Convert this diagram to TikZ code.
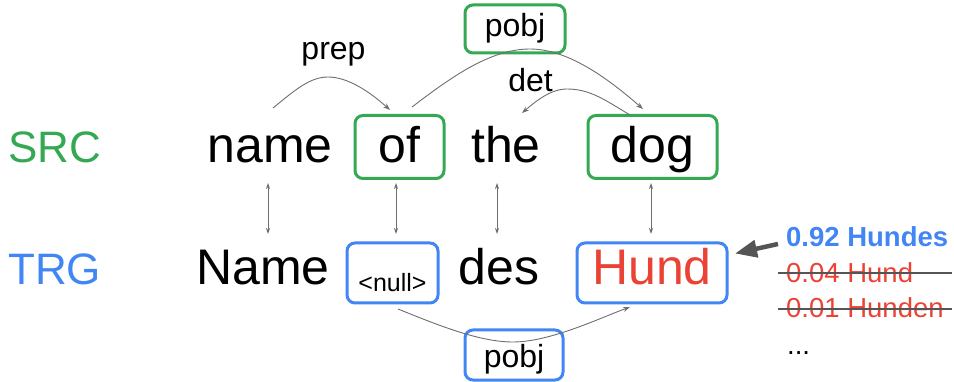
\documentclass[tikz,border=0pt]{standalone}
\usepackage{fontspec}
\setmainfont{Liberation Sans}
\usetikzlibrary{arrows.meta}
\definecolor{gGreen}{HTML}{34A853}
\definecolor{gBlue}{HTML}{4285F4}
\definecolor{gRed}{HTML}{EA4335}
\definecolor{lineGray}{HTML}{6E6E6E}
\definecolor{bigGray}{HTML}{555555}
\tikzset{
  word/.style={font=\fontsize{50}{50}\selectfont, inner sep=0pt, anchor=base},
  side/.style={font=\fontsize{44}{44}\selectfont, inner sep=0pt, anchor=base west},
  rel/.style={font=\fontsize{32}{32}\selectfont, inner sep=0pt, anchor=base},
  boxG/.style={draw=gGreen, line width=3pt, rounded corners=8pt, inner sep=0pt},
  boxB/.style={draw=gBlue, line width=3pt, rounded corners=8pt, inner sep=0pt},
  arc/.style={draw=lineGray, line width=0.9pt, -{Stealth[length=7pt,width=5pt]}},
  biarrow/.style={draw=lineGray, line width=0.9pt, {Stealth[length=6pt,width=4pt]}-{Stealth[length=6pt,width=4pt]}},
  cand/.style={font=\fontsize{27.5}{27.5}\selectfont, inner sep=0pt, anchor=base west},
  strike/.style={draw=bigGray, line width=1.2pt},
}
\begin{document}
\begin{tikzpicture}[x=1pt,y=-1pt]
\useasboundingbox (0,0) rectangle (954,382);
% side labels
\node[side, text=gGreen] (src) at (8,163) {SRC};
\node[side, text=gBlue] (trg) at (8,285) {TRG};
% source words
\node[word] (name) at (270,163) {name};
\node[word, boxG, text height=32pt, text depth=0pt, minimum width=89pt, minimum height=63pt] (of) at (399.5,163) {of};
\node[word] (the) at (506,163) {the};
\node[word, boxG, text height=32pt, text depth=0pt, minimum width=129pt, minimum height=63pt] (dog) at (652.5,163) {dog};
% target words
\node[word] (Name) at (263,285) {Name};
\node[word, boxB, font=\fontsize{25}{25}\selectfont, text height=38pt, text depth=0pt, minimum width=91pt, minimum height=60pt] (null) at (392.5,292) {<null>};
\node[word] (des) at (499,285) {des};
\node[word, boxB, text=gRed, text height=24pt, text depth=0pt, minimum width=150pt, minimum height=60pt] (Hund) at (652,285) {Hund};
% relation labels
\node[rel] (prep) at (333.5,60) {prep};
\node[rel, boxG, text height=16pt, text depth=0pt, minimum width=100pt, minimum height=48pt] (pobjS) at (515,37) {pobj};
\node[rel] (det) at (530.5,92) {det};
\node[rel, boxB, text height=24pt, text depth=0pt, minimum width=98pt, minimum height=50pt] (pobjT) at (514,367) {pobj};
% arc endpoints
\coordinate (prepS) at (273,108);
\coordinate (prepE) at (390,110);
\coordinate (pobjSS) at (412,107);
\coordinate (pobjSE) at (643,109);
\coordinate (detS) at (630,115);
\coordinate (detE) at (522,113);
\coordinate (pobjTS) at (398,309);
\coordinate (pobjTE) at (630,307);
% dependency arcs
\draw[arc] (prepS) .. controls (295,90) and (310,77) .. (328,77) .. controls (348,77) and (370,92) .. (prepE);
\draw[arc] (pobjSS) .. controls (450,78) and (490,49) .. (530,49) .. controls (570,49) and (612,82) .. (pobjSE);
\draw[arc] (detS) .. controls (605,100) and (590,89) .. (567,89) .. controls (550,89) and (535,102) .. (detE);
\draw[arc] (pobjTS) .. controls (440,326) and (480,342) .. (513,342) .. controls (550,342) and (600,318) .. (pobjTE);
% alignment arrows
\coordinate (v1t) at (268,183); \coordinate (v1b) at (268,234);
\coordinate (v2t) at (396,183); \coordinate (v2b) at (396,234);
\coordinate (v3t) at (497,183); \coordinate (v3b) at (497,234);
\coordinate (v4t) at (651,183); \coordinate (v4b) at (651,234);
\draw[biarrow] (v1t) -- (v1b);
\draw[biarrow] (v2t) -- (v2b);
\draw[biarrow] (v3t) -- (v3b);
\draw[biarrow] (v4t) -- (v4b);
% candidates
\node[cand, text=gBlue, font=\fontsize{27.5}{27.5}\selectfont\bfseries] (c1) at (786,247) {0.92 Hundes};
\node[cand, text=gRed] (c2) at (786,283) {0.04 Hund};
\node[cand, text=gRed] (c3) at (786,318) {0.01 Hunden};
\node[cand] (c4) at (787,354) {...};
\coordinate (s1a) at (778,273); \coordinate (s1b) at (952,273);
\coordinate (s2a) at (778,309); \coordinate (s2b) at (952,309);
\draw[strike] (s1a) -- (s1b);
\draw[strike] (s2a) -- (s2b);
% big arrow
\coordinate (bigS) at (778,244);
\coordinate (bigE) at (735,253.5);
\draw[draw=bigGray, line width=4.5pt, -{Triangle[length=22pt,width=17pt]}] (bigS) -- (bigE);
\end{tikzpicture}
\end{document}
